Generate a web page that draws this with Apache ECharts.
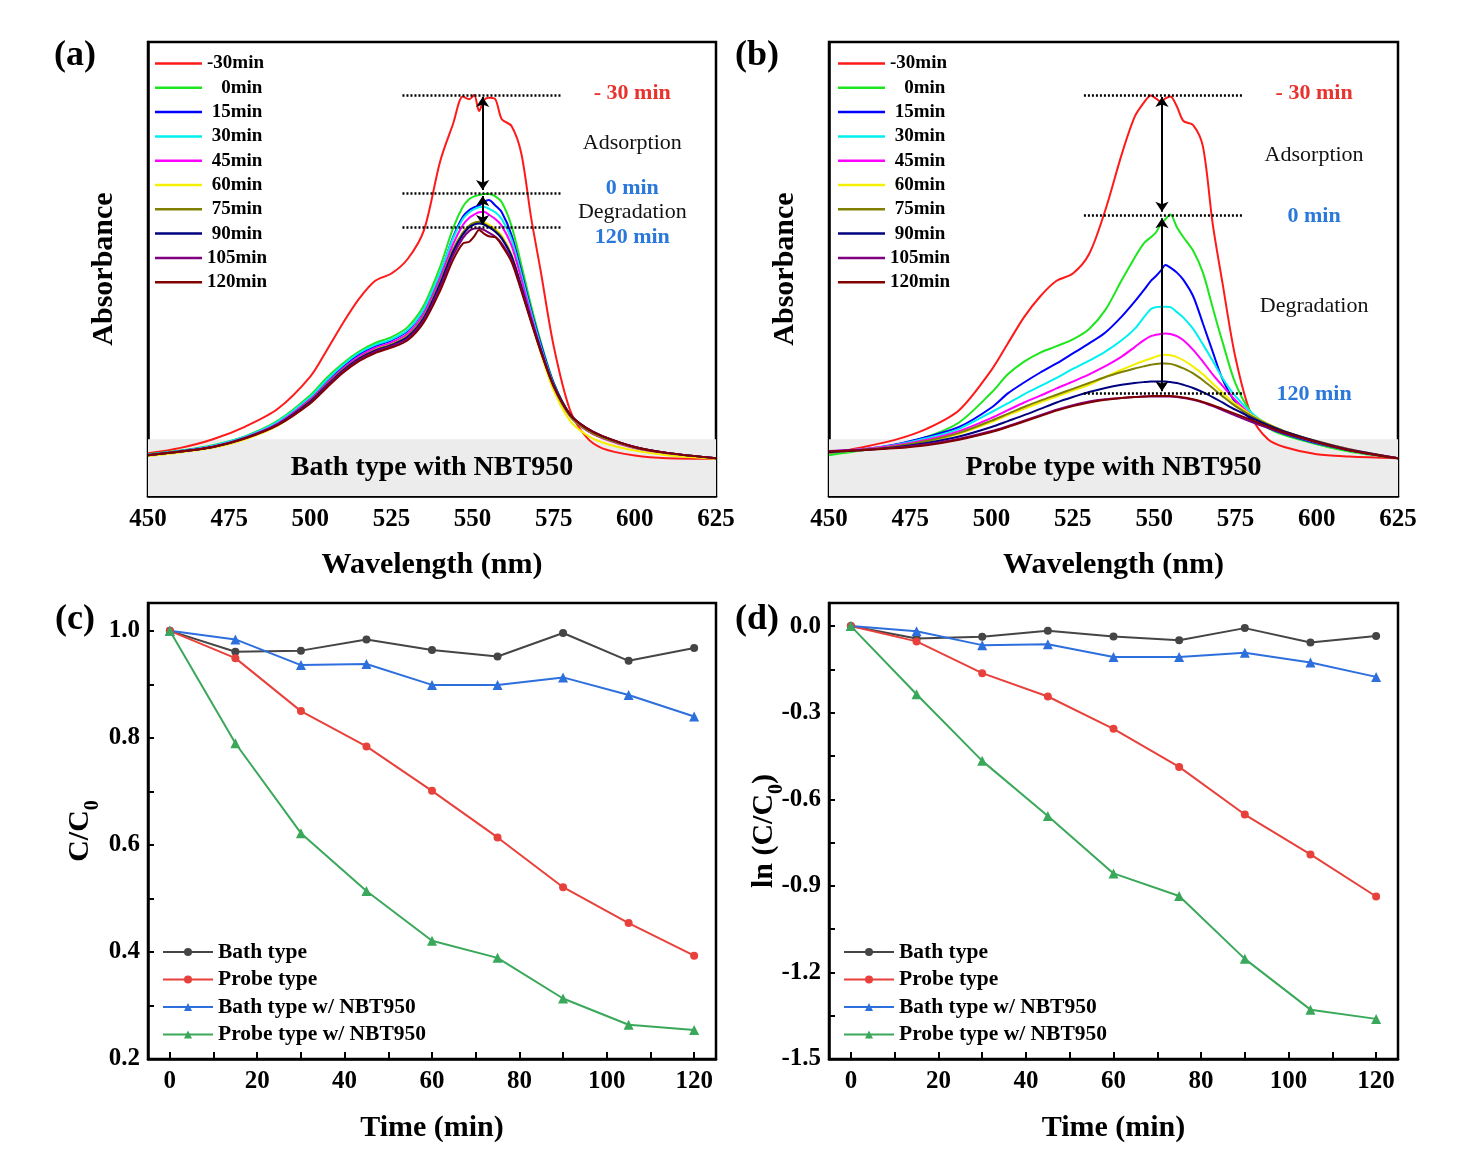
<!DOCTYPE html>
<html>
<head>
<meta charset="utf-8">
<script src="https://cdn.jsdelivr.net/npm/echarts@6/dist/echarts.min.js"></script>
<style>
  html, body { margin: 0; padding: 0; background: #fff; }
  #chart { width: 1460px; height: 1166px; }
</style>
</head>
<body>
<div id="chart"></div>
<script>
// ================================================================
// (a)(b) UV-Vis spectra  |  (c)(d) degradation kinetics
// ================================================================
const FONT = '"Liberation Serif", "Times New Roman", serif';

// ---- spectra: shared wavelength grid (nm) ----
const WAVELENGTH = [450, 460, 470, 480, 490, 500, 505, 510, 515, 520, 525, 530, 535, 540, 544, 547, 549, 550.5, 552, 553.5, 555, 557, 559, 562, 565, 568, 571, 575, 580, 585, 590, 600, 610, 625];
const SPECTRA_LABELS = ['-30min', '0min', '15min', '30min', '45min', '60min', '75min', '90min', '105min', '120min'];

// (a) bath type with NBT950
const BATH_M30 = [.094, .106, .125, .153, .192, .263, .320, .380, .434, .474, .490, .522, .585, .737, .820, .880, .874, .883, .848, .872, .877, .874, .830, .815, .755, .615, .495, .330, .190, .130, .105, .089, .083, .082];
const BATH_0 = [.092, .100, .112, .132, .166, .222, .260, .292, .318, .337, .350, .372, .420, .505, .590, .637, .654, .660, .663, .665, .665, .660, .647, .595, .510, .420, .340, .250, .180, .148, .130, .107, .095, .083];
const BATH_15 = [.091, .099, .110, .130, .162, .216, .252, .285, .312, .330, .343, .364, .410, .490, .570, .615, .630, .636, .640, .648, .652, .640, .625, .575, .495, .410, .335, .248, .180, .148, .130, .107, .094, .083];
const BATH_30 = [.091, .099, .111, .131, .164, .218, .255, .288, .315, .333, .345, .366, .412, .492, .568, .610, .625, .632, .636, .637, .633, .625, .610, .565, .488, .405, .330, .245, .178, .146, .128, .106, .094, .083];
const BATH_45 = [.090, .098, .109, .129, .160, .213, .248, .281, .307, .326, .338, .358, .402, .480, .555, .597, .613, .620, .625, .626, .620, .610, .595, .552, .478, .398, .325, .242, .176, .145, .127, .105, .093, .083];
const BATH_60 = [.088, .096, .106, .125, .155, .207, .242, .276, .302, .322, .334, .353, .395, .470, .542, .580, .595, .601, .604, .603, .598, .588, .573, .532, .462, .386, .315, .232, .166, .135, .118, .100, .090, .082];
const BATH_75 = [.090, .098, .108, .128, .158, .210, .245, .278, .304, .322, .334, .353, .396, .472, .543, .580, .596, .602, .604, .600, .594, .585, .570, .530, .462, .388, .320, .240, .176, .146, .128, .106, .094, .083];
const BATH_90 = [.090, .098, .108, .128, .158, .208, .243, .276, .302, .320, .332, .350, .392, .467, .538, .576, .592, .598, .600, .598, .592, .582, .567, .528, .462, .390, .323, .243, .180, .150, .132, .108, .095, .083];
const BATH_105 = [.090, .098, .108, .127, .157, .206, .241, .274, .300, .318, .330, .347, .388, .460, .530, .568, .584, .589, .590, .586, .580, .571, .556, .520, .456, .386, .320, .242, .180, .150, .132, .108, .095, .083];
const BATH_120 = [.090, .098, .108, .127, .156, .204, .238, .271, .297, .315, .327, .343, .383, .452, .520, .556, .560, .572, .586, .578, .572, .570, .552, .516, .452, .384, .318, .242, .180, .150, .132, .108, .095, .083];

// (b) probe type with NBT950
const PROBE_M30 = [.094, .107, .123, .148, .189, .278, .336, .394, .440, .474, .490, .533, .630, .752, .835, .868, .882, .876, .868, .876, .880, .858, .826, .817, .770, .600, .470, .305, .175, .125, .108, .092, .087, .083];
const PROBE_0 = [.090, .100, .112, .130, .162, .228, .268, .296, .316, .330, .345, .368, .410, .475, .525, .558, .570, .580, .598, .610, .620, .592, .570, .540, .492, .415, .340, .248, .182, .150, .134, .114, .098, .083];
const PROBE_15 = [.096, .102, .113, .130, .152, .195, .226, .250, .272, .292, .314, .336, .360, .395, .428, .455, .474, .484, .496, .509, .503, .492, .476, .440, .380, .318, .258, .206, .168, .150, .137, .116, .101, .083];
const PROBE_30 = [.098, .103, .112, .127, .148, .185, .204, .224, .242, .260, .280, .298, .318, .343, .368, .395, .412, .416, .417, .417, .416, .405, .393, .368, .334, .298, .260, .220, .183, .157, .140, .118, .102, .083];
const PROBE_45 = [.098, .103, .111, .124, .143, .172, .189, .206, .221, .237, .252, .268, .286, .307, .328, .344, .352, .355, .357, .358, .357, .352, .343, .322, .296, .268, .243, .211, .178, .157, .142, .120, .103, .083];
const PROBE_60 = [.096, .101, .108, .120, .137, .163, .178, .192, .206, .219, .232, .245, .262, .278, .290, .298, .303, .307, .310, .311, .310, .306, .299, .285, .268, .248, .228, .203, .178, .158, .143, .120, .102, .083];
const PROBE_75 = [.097, .102, .109, .121, .139, .166, .181, .196, .210, .223, .236, .249, .262, .273, .281, .286, .289, .291, .292, .292, .291, .287, .281, .270, .255, .238, .220, .198, .176, .158, .143, .121, .103, .083];
const PROBE_90 = [.097, .101, .107, .117, .131, .152, .165, .178, .192, .206, .218, .229, .238, .245, .249, .251, .252, .252, .252, .252, .251, .249, .245, .238, .229, .218, .206, .190, .172, .156, .142, .120, .102, .083];
const PROBE_105 = [.099, .102, .106, .114, .126, .143, .154, .166, .178, .190, .200, .208, .213, .216, .218, .219, .219, .219, .219, .219, .219, .218, .216, .212, .206, .198, .189, .177, .163, .150, .138, .118, .101, .083];
const PROBE_120 = [.098, .101, .105, .112, .124, .141, .152, .164, .176, .188, .198, .206, .212, .216, .218, .219, .220, .220, .220, .220, .220, .219, .217, .213, .207, .200, .192, .181, .167, .153, .140, .119, .101, .083];

// ---- spectra annotations (data coords) ----
const BAND_TOP = 0.125;
const GUIDE_X = [528.4, 577.3];
const GUIDE_Y_A = [0.883, 0.667, 0.593];
const GUIDE_Y_B = [0.883, 0.619, 0.226];
const ARROW_X_A = 553.1;
const ARROW_X_B = 552.4;
const ARROWS_A = [[0.879, 0.674], [0.661, 0.597]];
const ARROWS_B = [[0.879, 0.626], [0.612, 0.231]];
const NOTE_TEXT = ['- 30 min', 'Adsorption', '0 min', 'Degradation', '120 min'];
const NOTE_X = 599.2;
const NOTE_Y_A = [0.888, 0.778, 0.678, 0.626, 0.570];
const NOTE_Y_B = [0.888, 0.751, 0.617, 0.419, 0.224];

// ---- kinetics ----
const TIME = [0, 15, 30, 45, 60, 75, 90, 105, 120];
const KINETIC_LABELS = ['Bath type', 'Probe type', 'Bath type w/ NBT950', 'Probe type w/ NBT950'];
const C_BATH = [1.000, 0.961, 0.963, 0.984, 0.964, 0.952, 0.996, 0.944, 0.968];
const C_PROBE = [1.000, 0.949, 0.850, 0.784, 0.701, 0.614, 0.521, 0.454, 0.393];
const C_BATH_NBT = [1.000, 0.984, 0.936, 0.938, 0.899, 0.899, 0.913, 0.880, 0.840];
const C_PROBE_NBT = [1.000, 0.790, 0.622, 0.514, 0.421, 0.389, 0.313, 0.264, 0.254];
const LN_BATH = [0, -0.043, -0.037, -0.016, -0.036, -0.049, -0.007, -0.057, -0.034];
const LN_PROBE = [0, -0.053, -0.163, -0.244, -0.356, -0.488, -0.653, -0.791, -0.937];
const LN_BATH_NBT = [0, -0.018, -0.066, -0.063, -0.107, -0.107, -0.092, -0.126, -0.176];
const LN_PROBE_NBT = [0, -0.236, -0.467, -0.658, -0.857, -0.935, -1.153, -1.329, -1.361];

// ---- tick labels ----
const TIME_LABELS = [0, 20, 40, 60, 80, 100, 120];
const TIME_TICKS = [0, 10, 20, 30, 40, 50, 60, 70, 80, 90, 100, 110, 120];
const C_LABELS = [0.2, 0.4, 0.6, 0.8, 1.0];
const C_TICKS = [0.2, 0.3, 0.4, 0.5, 0.6, 0.7, 0.8, 0.9, 1.0];
const LN_LABELS = [-1.5, -1.2, -0.9, -0.6, -0.3, 0];
const LN_TICKS = [-1.5, -1.35, -1.2, -1.05, -0.9, -0.75, -0.6, -0.45, -0.3, -0.15, 0];

// ---- colours ----
const SPECTRA_COLORS = ['#ff1a1a', '#1ee61e', '#0000ff', '#00f0f0', '#ff00ff', '#f5f000', '#808000', '#000080', '#800080', '#800000'];
const KINETIC_COLORS = ['#454545', '#e8413c', '#2d6fdc', '#3aa85a'];
const KINETIC_SYMBOLS = ['circle', 'circle', 'triangle', 'triangle'];
const NOTE_COLORS = ['#e8322d', '#111', '#2a78da', '#111', '#2a78da'];
const NOTE_WEIGHTS = ['bold', 'normal', 'bold', 'normal', 'bold'];

const BATH_SPECTRA = [BATH_M30, BATH_0, BATH_15, BATH_30, BATH_45, BATH_60, BATH_75, BATH_90, BATH_105, BATH_120];
const PROBE_SPECTRA = [PROBE_M30, PROBE_0, PROBE_15, PROBE_30, PROBE_45, PROBE_60, PROBE_75, PROBE_90, PROBE_105, PROBE_120];

// ================================================================
// axis helpers
// ================================================================
const black = { color: '#000', width: 2.5 };
const tickLabel = { color: '#000', fontFamily: FONT, fontWeight: 'bold', fontSize: 25 };
const nameStyle = {
  color: '#000', fontFamily: FONT, fontWeight: 'bold', fontSize: 30,
  rich: {
    sub: { fontFamily: FONT, fontWeight: 'bold', fontSize: 20, lineHeight: 46, verticalAlign: 'bottom' },
  },
};

function wavelengthAxis(gridIndex) {
  return {
    gridIndex, type: 'value', min: 450, max: 625, interval: 25,
    name: 'Wavelength (nm)', nameLocation: 'middle', nameGap: 54, nameTextStyle: nameStyle,
    axisLine: { show: true, onZero: false, lineStyle: black },
    axisTick: { show: true, inside: true, length: 7, lineStyle: { color: '#000', width: 2 } },
    minorTick: { show: true, splitNumber: 2, length: 4, lineStyle: { color: '#000', width: 2 } },
    axisLabel: { ...tickLabel, margin: 11 },
    splitLine: { show: false },
    minorSplitLine: { show: false },
  };
}

function absorbanceAxis(gridIndex) {
  return {
    gridIndex, type: 'value', min: 0, max: 1,
    name: 'Absorbance', nameLocation: 'middle', nameGap: 29, nameTextStyle: nameStyle,
    axisLine: { show: true, lineStyle: black },
    axisTick: { show: false },
    axisLabel: { show: false },
    splitLine: { show: false },
  };
}

function timeAxis(gridIndex) {
  return {
    gridIndex, type: 'value', min: -5, max: 125,
    name: 'Time (min)', nameLocation: 'middle', nameGap: 54, nameTextStyle: nameStyle,
    axisLine: { show: true, onZero: false, lineStyle: black },
    axisTick: { show: true, inside: true, length: 7, customValues: TIME_TICKS, lineStyle: { color: '#000', width: 2 } },
    axisLabel: { ...tickLabel, margin: 10, customValues: TIME_LABELS },
    splitLine: { show: false },
  };
}

function kineticYAxis(gridIndex, min, max, ticks, labels, name, gap) {
  return {
    gridIndex, type: 'value', min, max,
    name, nameLocation: 'middle', nameGap: gap, nameMoveOverlap: false, nameTextStyle: nameStyle,
    axisLine: { show: true, onZero: false, lineStyle: black },
    axisTick: { show: true, inside: true, length: 6, customValues: ticks, lineStyle: { color: '#000', width: 2 } },
    axisLabel: { ...tickLabel, margin: 8, customValues: labels, formatter: (v) => Number(v).toFixed(1) },
    splitLine: { show: false },
  };
}

// ================================================================
// series helpers
// ================================================================
function spectraSeries(gridIndex, spectra) {
  return spectra.map((vals, i) => ({
    name: SPECTRA_LABELS[i],
    type: 'line',
    xAxisIndex: gridIndex,
    yAxisIndex: gridIndex,
    data: WAVELENGTH.map((w, k) => [w, vals[k]]),
    symbol: 'none',
    smooth: 0.3,
    lineStyle: { color: SPECTRA_COLORS[i], width: 2 },
    itemStyle: { color: SPECTRA_COLORS[i] },
    silent: true,
  }));
}

function spectraMarks(gridIndex, bandText, guideY, arrowX, arrows, noteY) {
  const base = { type: 'line', xAxisIndex: gridIndex, yAxisIndex: gridIndex, data: [], silent: true };
  return [
    {
      ...base,
      markArea: {
        silent: true,
        itemStyle: { color: '#ececec' },
        label: { show: true, position: 'inside', color: '#000', fontFamily: FONT, fontWeight: 'bold', fontSize: 28 },
        data: [[
          { name: bandText, coord: [WAVELENGTH[0], 0] },
          { coord: [WAVELENGTH[WAVELENGTH.length - 1], BAND_TOP] },
        ]],
      },
    },
    {
      ...base,
      markLine: {
        silent: true,
        symbol: 'none',
        label: { show: false },
        lineStyle: { color: '#000', width: 2.5, type: [2, 2] },
        data: guideY.map((y) => [{ coord: [GUIDE_X[0], y] }, { coord: [GUIDE_X[1], y] }]),
      },
      markPoint: {
        silent: true,
        symbol: 'circle',
        symbolSize: 1,
        itemStyle: { color: 'rgba(0,0,0,0)' },
        label: { show: true, position: 'inside', formatter: '{b}', fontFamily: FONT, fontSize: 22 },
        data: NOTE_TEXT.map((t, i) => ({
          name: t,
          coord: [NOTE_X, noteY[i]],
          label: { color: NOTE_COLORS[i], fontWeight: NOTE_WEIGHTS[i] },
        })),
      },
    },
    {
      ...base,
      markLine: {
        silent: true,
        symbol: ['arrow', 'arrow'],
        symbolSize: 10,
        label: { show: false },
        lineStyle: { color: '#000', width: 2, type: 'solid' },
        data: arrows.map(([y0, y1]) => [{ coord: [arrowX, y0] }, { coord: [arrowX, y1] }]),
      },
    },
  ];
}

function kineticSeries(gridIndex, sets) {
  return sets.map((vals, i) => ({
    name: KINETIC_LABELS[i],
    type: 'line',
    xAxisIndex: gridIndex,
    yAxisIndex: gridIndex,
    data: TIME.map((t, k) => [t, vals[k]]),
    symbol: KINETIC_SYMBOLS[i],
    symbolSize: KINETIC_SYMBOLS[i] === 'triangle' ? 10 : 8,
    showSymbol: true,
    lineStyle: { color: KINETIC_COLORS[i], width: 2 },
    itemStyle: { color: KINETIC_COLORS[i] },
    silent: true,
  }));
}

// pad legend names so they sit roughly right-aligned like the original
function padSpectraLabel(name) {
  if (name.length === 4) return '   ' + name;
  if (name.length === 5) return ' ' + name;
  return name;
}

// spectra legend: plain line sample, no marker
const spectraLegend = (left) => ({
  data: SPECTRA_LABELS, orient: 'vertical', left, top: 49,
  icon: 'rect', itemWidth: 47, itemHeight: 2.5, itemGap: 5.3, selectedMode: false,
  formatter: padSpectraLabel,
  textStyle: { color: '#000', fontFamily: FONT, fontWeight: 'bold', fontSize: 19 },
});

const kineticLegend = (left) => ({
  data: KINETIC_LABELS, orient: 'vertical', left, top: 936,
  itemWidth: 50, itemHeight: 10, itemGap: 5.5, selectedMode: false,
  textStyle: { color: '#000', fontFamily: FONT, fontWeight: 'bold', fontSize: 21.5 },
});

const gridBox = { show: true, borderColor: '#000', borderWidth: 2.5, backgroundColor: 'transparent', containLabel: false, outerBoundsMode: 'none' };

const panelLabel = (text, x, y) => ({
  type: 'text', x, y,
  style: { text, fill: '#000', font: `bold 36px ${FONT}`, align: 'center', verticalAlign: 'middle' },
});

const option = {
  backgroundColor: '#fff',
  animation: false,
  grid: [
    { ...gridBox, left: 148, top: 42, width: 568, height: 454 },
    { ...gridBox, left: 829, top: 42, width: 569, height: 454 },
    { ...gridBox, left: 148, top: 603, width: 568, height: 456 },
    { ...gridBox, left: 829, top: 603, width: 569, height: 456 },
  ],
  xAxis: [wavelengthAxis(0), wavelengthAxis(1), timeAxis(2), timeAxis(3)],
  yAxis: [
    absorbanceAxis(0),
    absorbanceAxis(1),
    kineticYAxis(2, 0.2, 1.052, C_TICKS, C_LABELS, 'C/C{sub|0}', 45),
    kineticYAxis(3, -1.5, 0.08, LN_TICKS, LN_LABELS, 'ln (C/C{sub|0})', 42),
  ],
  legend: [spectraLegend(150), spectraLegend(833), kineticLegend(157), kineticLegend(838)],
  graphic: [
    panelLabel('(a)', 75, 56),
    panelLabel('(b)', 757, 56),
    panelLabel('(c)', 75, 620),
    panelLabel('(d)', 757, 620),
  ],
  series: [
    ...spectraMarks(0, 'Bath type with NBT950', GUIDE_Y_A, ARROW_X_A, ARROWS_A, NOTE_Y_A),
    ...spectraSeries(0, BATH_SPECTRA),
    ...spectraMarks(1, 'Probe type with NBT950', GUIDE_Y_B, ARROW_X_B, ARROWS_B, NOTE_Y_B),
    ...spectraSeries(1, PROBE_SPECTRA),
    ...kineticSeries(2, [C_BATH, C_PROBE, C_BATH_NBT, C_PROBE_NBT]),
    ...kineticSeries(3, [LN_BATH, LN_PROBE, LN_BATH_NBT, LN_PROBE_NBT]),
  ],
};

const chart = echarts.init(document.getElementById('chart'));
chart.setOption(option);
</script>
</body>
</html>
